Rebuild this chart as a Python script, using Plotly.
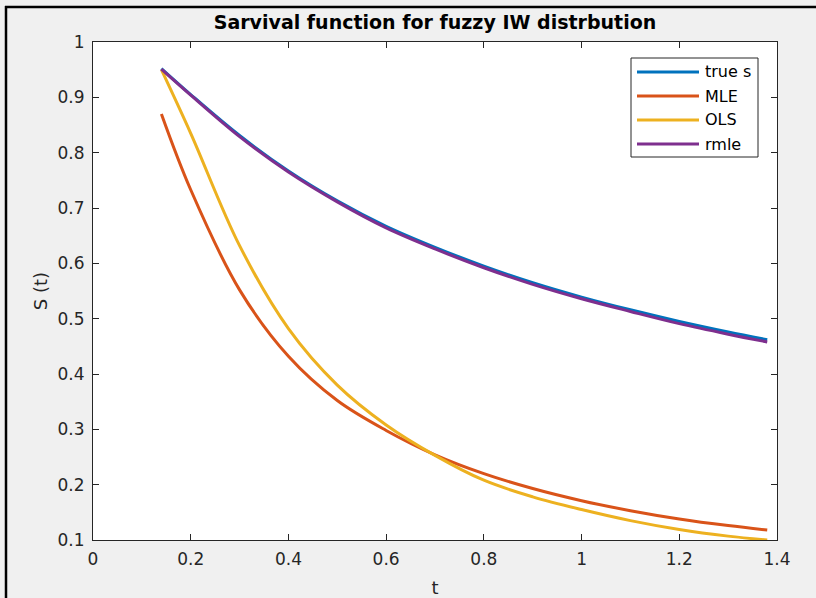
import plotly.graph_objects as go

# Survival estimates S(t) for the fuzzy inverse Weibull model
t_vals = [0.14, 0.2, 0.3, 0.4, 0.5, 0.6, 0.7, 0.8, 0.9, 1.0, 1.1, 1.2, 1.3, 1.38]
s_true = [0.952, 0.905, 0.831, 0.767, 0.713, 0.667, 0.629, 0.595, 0.565, 0.539, 0.516, 0.495, 0.476, 0.462]
s_mle = [0.870, 0.733, 0.552, 0.432, 0.352, 0.298, 0.254, 0.220, 0.193, 0.171, 0.153, 0.138, 0.126, 0.118]
s_ols = [0.950, 0.835, 0.632, 0.482, 0.380, 0.308, 0.253, 0.208, 0.178, 0.155, 0.135, 0.119, 0.107, 0.100]
s_rmle = [0.951, 0.904, 0.829, 0.765, 0.711, 0.664, 0.626, 0.592, 0.562, 0.536, 0.513, 0.491, 0.472, 0.458]

series = [
    ("true s", s_true, "#0072BD"),
    ("MLE", s_mle, "#D95319"),
    ("OLS", s_ols, "#EDB120"),
    ("rmle", s_rmle, "#7E2F8E"),
]

W, H = 816, 598
ML, MR, MT, MB = 93, 39, 42, 58
PW, PH = W - ML - MR, H - MT - MB

axis_color = "#262626"
font_family = "DejaVu Sans, Verdana, sans-serif"


def px_x(px):
    return (px - ML) / PW


def px_y(py):
    return 1 - (py - MT) / PH


fig = go.Figure()
for name, ys, color in series:
    fig.add_trace(go.Scatter(
        x=t_vals, y=ys, mode="lines", name=name, showlegend=False,
        line=dict(color=color, width=3, shape="spline", smoothing=1.0),
    ))

common_axis = dict(
    showgrid=False, zeroline=False, automargin=False,
    showline=True, linecolor=axis_color, linewidth=1, mirror="ticks",
    ticks="inside", ticklen=6, tickcolor=axis_color, tickwidth=1,
    tickfont=dict(family=font_family, size=17, color=axis_color),
)

fig.update_xaxes(
    range=[0, 1.4], tickvals=[0, 0.2, 0.4, 0.6, 0.8, 1, 1.2, 1.4],
    ticktext=["0", "0.2", "0.4", "0.6", "0.8", "1", "1.2", "1.4"],
    ticklabelstandoff=4,
    title=dict(text="t", font=dict(family=font_family, size=18, color=axis_color), standoff=14),
    **common_axis,
)
fig.update_yaxes(
    range=[0.1, 1.0], tickvals=[0.1, 0.2, 0.3, 0.4, 0.5, 0.6, 0.7, 0.8, 0.9, 1.0],
    ticktext=["0.1", "0.2", "0.3", "0.4", "0.5", "0.6", "0.7", "0.8", "0.9", "1"],
    ticklabelstandoff=4,
    title=dict(text="S (t)", font=dict(family=font_family, size=18, color=axis_color), standoff=5),
    **common_axis,
)

shapes = [
    # outer black frame along the top and left edges of the figure
    dict(type="line", xref="paper", yref="paper",
         x0=px_x(5), x1=px_x(W), y0=px_y(7), y1=px_y(7),
         line=dict(color="#000000", width=2.5)),
    dict(type="line", xref="paper", yref="paper",
         x0=px_x(6), x1=px_x(6), y0=px_y(6), y1=px_y(H),
         line=dict(color="#000000", width=2.5)),
    # legend box
    dict(type="rect", xref="paper", yref="paper",
         x0=px_x(631), x1=px_x(758), y0=px_y(58), y1=px_y(157),
         fillcolor="#ffffff", line=dict(color=axis_color, width=1)),
]
annotations = []

legend_rows = [72, 96, 120, 144]
for (name, _, color), row in zip(series, legend_rows):
    shapes.append(dict(type="line", xref="paper", yref="paper",
                       x0=px_x(637), x1=px_x(699), y0=px_y(row), y1=px_y(row),
                       line=dict(color=color, width=3)))
    annotations.append(dict(xref="paper", yref="paper", x=px_x(703), y=px_y(row),
                            xanchor="left", yanchor="middle", showarrow=False,
                            text=name, font=dict(family=font_family, size=16, color="#000000")))

fig.update_layout(
    width=W, height=H,
    margin=dict(l=ML, r=MR, t=MT, b=MB, pad=0),
    paper_bgcolor="#f0f0f0", plot_bgcolor="#ffffff",
    title=dict(text="<b>Sarvival function for fuzzy IW distrbution</b>",
               x=(ML + PW / 2) / W, xanchor="center", y=1 - 22 / H, yanchor="middle",
               font=dict(family=font_family, size=19, color="#000000")),
    shapes=shapes,
    annotations=annotations,
    showlegend=False,
)

fig.write_html("out.html")
